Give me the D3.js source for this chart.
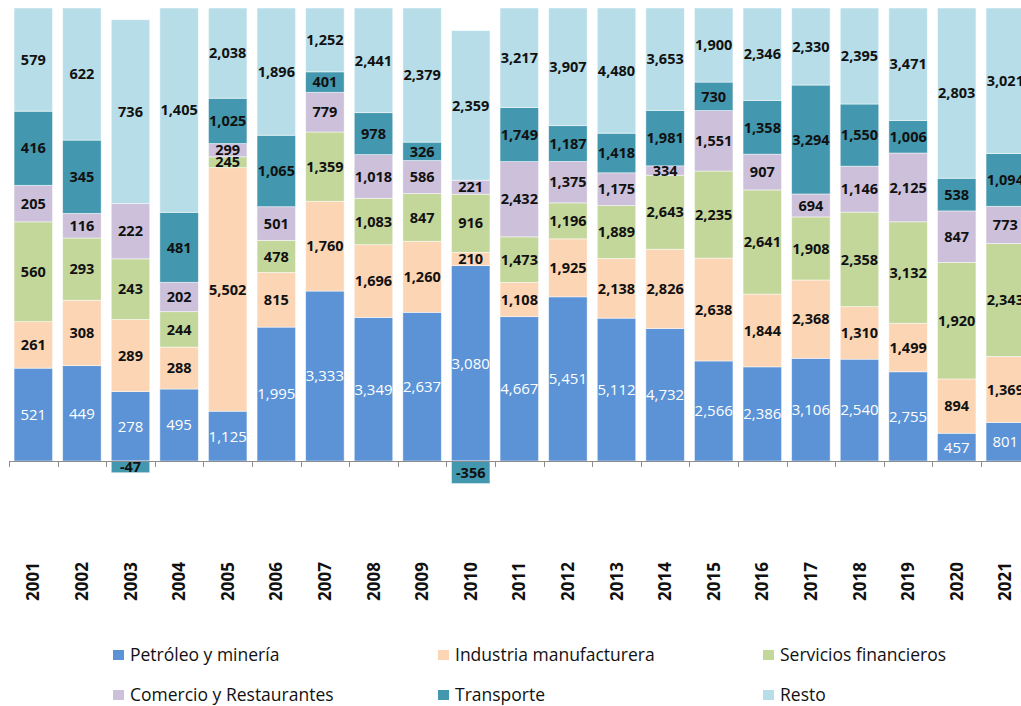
<!DOCTYPE html>
<html>
<head>
<meta charset="utf-8">
<script src="https://cdn.jsdelivr.net/npm/d3@7"></script>
<style>
  body { margin: 0; background: #fff; }
  svg { display: block; font-family: "Open Sans", sans-serif; }
</style>
</head>
<body>
<div id="chart"></div>
<script>
// data
const years = ["2001","2002","2003","2004","2005","2006","2007","2008","2009","2010","2011",
  "2012","2013","2014","2015","2016","2017","2018","2019","2020","2021"];
const series = ["Petróleo y minería", "Industria manufacturera", "Servicios financieros",
  "Comercio y Restaurantes", "Transporte", "Resto"];
const petroleo   = [521, 449, 278, 495, 1125, 1995, 3333, 3349, 2637, 3080, 4667, 5451, 5112, 4732, 2566, 2386, 3106, 2540, 2755, 457, 801];
const industria  = [261, 308, 289, 288, 5502, 815, 1760, 1696, 1260, 210, 1108, 1925, 2138, 2826, 2638, 1844, 2368, 1310, 1499, 894, 1369];
const servicios  = [560, 293, 243, 244, 245, 478, 1359, 1083, 847, 916, 1473, 1196, 1889, 2643, 2235, 2641, 1908, 2358, 3132, 1920, 2343];
const comercio   = [205, 116, 222, 202, 299, 501, 779, 1018, 586, 221, 2432, 1375, 1175, 334, 1551, 907, 694, 1146, 2125, 847, 773];
const transporte = [416, 345, -47, 481, 1025, 1065, 401, 978, 326, -356, 1749, 1187, 1418, 1981, 730, 1358, 3294, 1550, 1006, 538, 1094];
const resto      = [579, 622, 736, 1405, 2038, 1896, 1252, 2441, 2379, 2359, 3217, 3907, 4480, 3653, 1900, 2346, 2330, 2395, 3471, 2803, 3021];

const values = [petroleo, industria, servicios, comercio, transporte, resto];
const colors = ["#5b93d6", "#fcd5b4", "#c4d79b", "#ccc0da", "#4397ae", "#b7dee8"];

const width = 1021, height = 706;
const zeroY = 461, topY = 8;

const fmt = d3.formatLocale({decimal: ".", thousands: ",", grouping: [3], currency: ["", ""], minus: "-"}).format(",");

const svg = d3.select("#chart")
  .append("svg")
    .attr("width", width)
    .attr("height", height);

// 100% stacked like Excel: each value over the sum of absolute values
const table = years.map((yr, i) => {
  const row = { year: yr };
  const absSum = d3.sum(values, v => Math.abs(v[i]));
  series.forEach((s, k) => {
    row[s] = values[k][i] / absSum;
    row["raw_" + k] = values[k][i];
  });
  return row;
});

const stack = d3.stack()
  .keys(series)
  .offset(d3.stackOffsetDiverging);
const stacked = stack(table);

const x = d3.scaleBand()
  .domain(years)
  .range([9, 9 + 48.6 * years.length])
  .paddingInner(0.208)
  .paddingOuter(0.104);

const y = d3.scaleLinear()
  .domain([0, 1])
  .range([zeroY, topY]);

// bars
const layers = svg.selectAll("g.layer")
  .data(stacked)
  .join("g")
    .attr("class", "layer")
    .attr("fill", (d, i) => colors[i]);

layers.selectAll("rect")
  .data(d => d)
  .join("rect")
    .attr("x", d => x(d.data.year))
    .attr("y", d => y(d[1]))
    .attr("width", x.bandwidth())
    .attr("height", d => Math.abs(y(d[0]) - y(d[1])))
    .attr("stroke", "#fff")
    .attr("stroke-width", 0.8)
    .attr("stroke-opacity", 0.6);

// value labels
stacked.forEach((layer, k) => {
  svg.append("g")
    .selectAll("text")
    .data(layer)
    .join("text")
      .attr("x", d => x(d.data.year) + x.bandwidth() / 2)
      .attr("y", d => (y(d[0]) + y(d[1])) / 2)
      .attr("dy", "0.36em")
      .attr("text-anchor", "middle")
      .attr("font-size", k === 0 ? 15 : 14.5)
      .attr("font-weight", k === 0 ? "normal" : "bold")
      .attr("fill", k === 0 ? "#fff" : "#111")
      .text(d => fmt(d.data["raw_" + k]));
});

// x axis: baseline with tick marks between the categories
const axis = svg.append("g");
axis.append("line")
  .attr("x1", 9).attr("x2", width)
  .attr("y1", zeroY + 0.5).attr("y2", zeroY + 0.5)
  .attr("stroke", "#8c8c8c")
  .attr("stroke-width", 1);
const tickX = years.map(yr => x(yr) - x.step() * x.paddingInner() / 2);
axis.selectAll("line.tick")
  .data(tickX)
  .join("line")
    .attr("class", "tick")
    .attr("x1", d => Math.round(d) + 0.5).attr("x2", d => Math.round(d) + 0.5)
    .attr("y1", zeroY).attr("y2", zeroY + 6)
    .attr("stroke", "#8c8c8c");

// year labels, rotated
svg.append("g")
  .selectAll("text")
  .data(years)
  .join("text")
    .attr("transform", d => `translate(${x(d) + x.bandwidth() / 2 + 6},601) rotate(-90)`)
    .attr("text-anchor", "start")
    .attr("font-size", 17)
    .attr("font-weight", "bold")
    .attr("fill", "#111")
    .text(d => d);

// legend
const legendPos = [[113, 650], [438, 650], [763, 650], [113, 690], [438, 690], [763, 690]];
const legend = svg.selectAll(".legend")
  .data(series)
  .join("g")
    .attr("class", "legend")
    .attr("transform", (d, i) => `translate(${legendPos[i][0]},${legendPos[i][1]})`);

legend.append("rect")
  .attr("width", 11).attr("height", 10)
  .attr("fill", (d, i) => colors[i]);

legend.append("text")
  .attr("x", 17)
  .attr("y", 11)
  .attr("font-size", 17.5)
  .attr("fill", "#111")
  .text(d => d);
</script>
</body>
</html>
